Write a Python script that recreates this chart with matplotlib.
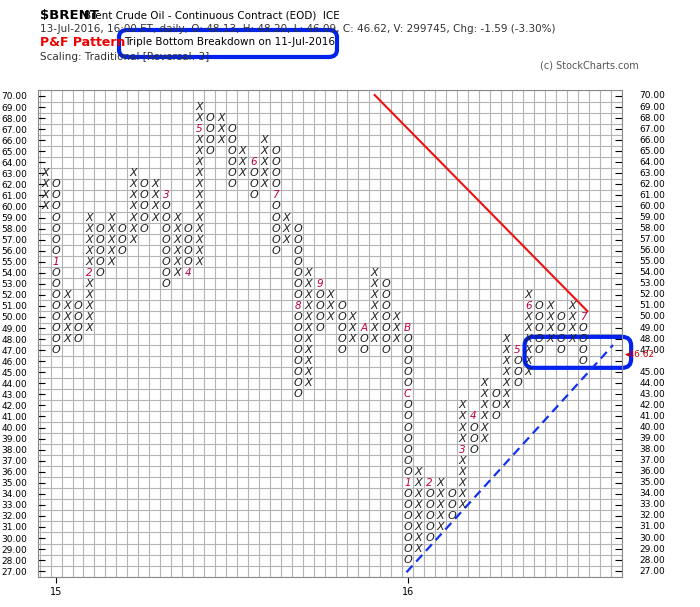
import matplotlib.pyplot as plt
from matplotlib.patches import FancyBboxPatch

# P&F columns: box type, low price, high price
col_type = ["X", "O", "X", "O", "X", "O", "X", "O", "X", "O",
            "X", "O", "X", "O", "X", "O", "X", "O", "X", "O",
            "X", "O", "X", "O", "X", "O", "X", "O", "X", "O",
            "X", "O", "X", "O", "X", "O", "X", "O", "X", "O",
            "X", "O", "X", "O", "X", "O", "X", "O", "X", "O"]
col_low = [60, 47, 48, 48, 49, 54, 55, 56, 57, 58,
           59, 53, 54, 54, 55, 65, 66, 62, 63, 61,
           62, 56, 57, 43, 44, 49, 50, 47, 48, 47,
           48, 47, 48, 28, 29, 30, 31, 32, 33, 38,
           39, 41, 42, 44, 45, 47, 48, 47, 48, 46]
col_high = [63, 62, 52, 51, 59, 58, 59, 58, 63, 62,
            62, 61, 59, 58, 69, 68, 68, 67, 65, 64,
            66, 65, 59, 58, 54, 53, 52, 51, 50, 49,
            54, 53, 50, 49, 36, 35, 35, 34, 42, 41,
            44, 43, 48, 47, 52, 51, 51, 50, 51, 50]
# month markers (col, price, label)
month_marks = [(1, 55, "1"), (4, 54, "2"), (11, 61, "3"), (13, 54, "4"),
               (14, 67, "5"), (19, 64, "6"), (21, 61, "7"), (23, 51, "8"),
               (25, 53, "9"), (29, 49, "A"), (33, 49, "B"), (33, 43, "C"),
               (33, 35, "1"), (35, 35, "2"), (38, 38, "3"), (39, 41, "4"),
               (43, 47, "5"), (44, 51, "6"), (49, 50, "7")]
year_ticks = [1, 33]
year_labels = ["15", "16"]
red_line = ([30, 49.36], [70.09, 50.54])
blue_line = ([32.9, 51.7], [26.9, 47.46])
price_min, price_max = 27, 70
last_price = 46.62

fig = plt.figure(figsize=(7, 6.07), dpi=100)
ax = fig.add_axes([0.0543, 0.0494, 0.834, 0.8023])
ax.set_xlim(-0.64, 52.5)
ax.set_ylim(26.47, 70.54)

for g in range(-1, 53):
    ax.axvline(g + 0.5, color="#b4b4b4", lw=0.8, zorder=0)
for p in range(price_min - 1, price_max + 1):
    ax.axhline(p + 0.5, color="#b4b4b4", lw=0.8, zorder=0)

marked = {(c, p) for c, p, _ in month_marks}
for i, (t, lo, hi) in enumerate(zip(col_type, col_low, col_high)):
    for p in range(lo, hi + 1):
        if (i, p) in marked:
            continue
        ax.text(i, p, t, ha="center", va="center", fontsize=8,
                style="italic", color="#222222")
for c, p, s in month_marks:
    ax.text(c, p, s, ha="center", va="center", fontsize=7.5,
            style="italic", color="#c0003c")

ax.plot(*red_line, color="#ee1111", lw=1.5)
ax.plot(*blue_line, color="#1133ee", lw=1.6, ls=(0, (4, 2.5)))
ax.add_patch(FancyBboxPatch((43.65, 45.4), 9.7, 2.8,
                            boxstyle="round,pad=0,rounding_size=0.8",
                            fill=False, ec="#0022ee", lw=3, clip_on=False))

prices = list(range(price_min, price_max + 1))
ax.set_yticks(prices)
ax.set_yticklabels([f"{p:.2f}" for p in prices], fontsize=6.5)
ax.tick_params(axis="y", left=True, right=True, labelleft=True,
               labelright=False, direction="in", length=5, pad=8)
ytrans = ax.get_yaxis_transform()
for p in prices:
    if p == 46:
        continue
    ax.text(1.03, p, f"{p:.2f}", transform=ytrans, fontsize=6.5,
            va="center", clip_on=False)
ax.text(1.005, last_price, "\u25c2" + f"{last_price:.2f}", color="#cc0000",
        fontsize=6.5, va="center", transform=ytrans, clip_on=False)
ax.set_xticks(year_ticks)
ax.set_xticklabels(year_labels, fontsize=7)
ax.tick_params(axis="x", direction="out", length=4)
for s in ax.spines.values():
    s.set_color("#888888")

fig.text(40 / 700, 1 - 15 / 607, "$BRENT", fontsize=9.5, weight="bold", va="center")
fig.text(84 / 700, 1 - 15 / 607, "Brent Crude Oil - Continuous Contract (EOD)  ICE",
         fontsize=7.5, va="center")
fig.text(40 / 700, 1 - 29 / 607,
         "13-Jul-2016, 16:00 ET, daily, O: 48.13, H: 48.20, L: 46.09, C: 46.62, "
         "V: 299745, Chg: -1.59 (-3.30%)", fontsize=7.5, color="#333333", va="center")
fig.text(40 / 700, 1 - 43 / 607, "P&F Pattern", fontsize=9, weight="bold",
         color="#ee0000", va="center")
fig.text(40 / 700, 1 - 57 / 607, "Scaling: Traditional [Reversal: 3]",
         fontsize=7.5, color="#333333", va="center")
fig.patches.append(FancyBboxPatch((119 / 700, 1 - 57 / 607), 218 / 700, 27 / 607,
                                  boxstyle="round,pad=0,rounding_size=0.012",
                                  transform=fig.transFigure, fc="white",
                                  ec="#0022ee", lw=3))
fig.text(124 / 700, 1 - 42 / 607, "Triple Bottom Breakdown on 11-Jul-2016",
         fontsize=7.5, va="center")
fig.text(540 / 700, 1 - 66 / 607, "(c) StockCharts.com", fontsize=7,
         color="#555555", va="center")

fig.savefig("out.png", dpi=100)
